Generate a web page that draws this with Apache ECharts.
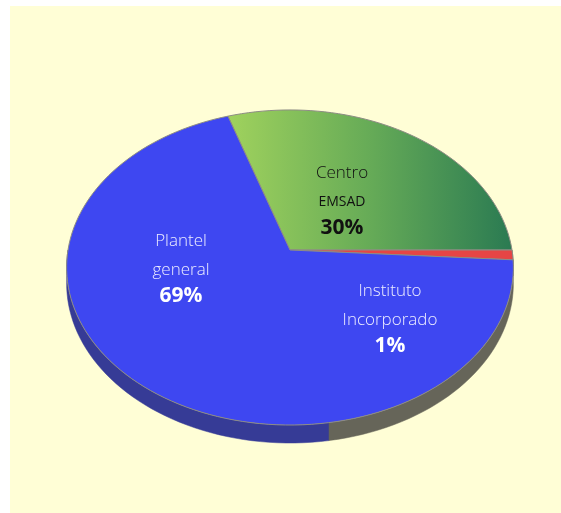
<!DOCTYPE html>
<html>
<head>
<meta charset="utf-8">
<script src="https://cdn.jsdelivr.net/npm/echarts@6/dist/echarts.min.js"></script>
<style>
  html, body { margin: 0; padding: 0; background: #ffffff; }
  #chart { position: absolute; left: 10px; top: 6px; width: 551px; height: 507px; }
</style>
</head>
<body>
<div id="chart"></div>
<script>
// slices in drawing order, clockwise from the start angle
const categories = ['Centro EMSAD', 'Instituto Incorporado', 'Plantel general']
const nameLines = [['Centro', 'EMSAD'], ['Instituto', 'Incorporado'], ['Plantel', 'general']]
const shares = [30, 1, 69]

const topColors = [
  { type: 'linear', x: 0, y: 0, x2: 1, y2: 0, colorStops: [
    { offset: 0, color: '#a0d25d' }, { offset: 0.5, color: '#66ab57' }, { offset: 1, color: '#2a7a52' }] },
  '#e64545',
  '#3e47f1',
]
const wallColors = ['#2f6e4a', '#666559', '#363b96']
const labelColors = ['#111111', '#ececff', '#ececff']
const pctColors = ['#111111', '#ffffff', '#ffffff']
const labelAt = [[332, 167], [380, 285], [171, 235]]

// fake 3d: tilted disc seen in perspective
const startAngle = 108
const cx = 280, cy = 244, sx = 222, sy = 155.6, k = 0.111, depth = 16
const greyFrom = -81 // right part of the rim wall is drawn grey, like the original

function proj(deg, r, dz) {
  const a = (deg * Math.PI) / 180
  const X = r * Math.cos(a)
  const v = r * Math.sin(a)
  const w = 1 + k * v
  return [cx + (sx * X) / w, cy + (-sy * v + dz) / w]
}

const total = shares.reduce((a, b) => a + b, 0)
const spans = []
let acc = 0
shares.forEach((v) => {
  const a0 = startAngle - (acc / total) * 360
  acc += v
  spans.push([a0, startAngle - (acc / total) * 360])
})

function arc(from, to, dz) {
  const pts = []
  const n = Math.max(2, Math.ceil(Math.abs(from - to) / 2))
  for (let i = 0; i <= n; i++) pts.push(proj(from + ((to - from) * i) / n, 1, dz))
  return pts
}

function wallPiece(hi, lo, fill) {
  const top = arc(hi, lo, 0)
  const bottom = arc(lo, hi, depth)
  return { type: 'polygon', shape: { points: top.concat(bottom) }, style: { fill: fill, stroke: fill, lineWidth: 0.5 } }
}

function renderWall(params, api) {
  const i = params.dataIndex
  const [a0, a1] = spans[i]
  const hi = Math.min(a0, 0)
  const lo = Math.max(a1, -180)
  const children = []
  if (hi > lo) {
    if (lo < greyFrom) children.push(wallPiece(Math.min(hi, greyFrom), lo, wallColors[i]))
    if (hi > greyFrom) children.push(wallPiece(hi, Math.max(lo, greyFrom), '#666559'))
  }
  return { type: 'group', children: children }
}

function renderTop(params, api) {
  const i = params.dataIndex
  const [a0, a1] = spans[i]
  const pts = [proj(0, 0, 0)].concat(arc(a0, a1, 0))
  return { type: 'polygon', shape: { points: pts }, style: { fill: topColors[i], stroke: '#8e8d84', lineWidth: 1 } }
}

function renderLabel(params, api) {
  const i = params.dataIndex
  const [lx, ly] = labelAt[i]
  const font = (size, weight) => weight + ' ' + size + 'px "Open Sans", sans-serif'
  return {
    type: 'group',
    children: [
      { type: 'text', style: { x: lx, y: ly, text: nameLines[i][0], fill: labelColors[i], font: font(17, 300), align: 'center', verticalAlign: 'middle' } },
      { type: 'text', style: { x: lx, y: ly + 29, text: nameLines[i][1], fill: labelColors[i],
          font: i === 0 ? font(14, 400) : font(17, 300), align: 'center', verticalAlign: 'middle' } },
      { type: 'text', style: { x: lx, y: ly + 55, text: api.value(1) + '%', fill: pctColors[i], font: font(21, 700), align: 'center', verticalAlign: 'middle' } },
    ],
  }
}

const seriesData = shares.map((v, i) => ({ name: categories[i], value: [i, v] }))

const chart = echarts.init(document.getElementById('chart'))
chart.setOption({
  backgroundColor: '#fffed6',
  animation: false,
  series: [
    { type: 'custom', coordinateSystem: 'none', renderItem: renderWall, data: seriesData, z: 1 },
    { type: 'custom', coordinateSystem: 'none', renderItem: renderTop, data: seriesData, z: 2 },
    { type: 'custom', coordinateSystem: 'none', renderItem: renderLabel, data: seriesData, z: 3 },
  ],
})
window.addEventListener('resize', () => chart.resize())
</script>
</body>
</html>
